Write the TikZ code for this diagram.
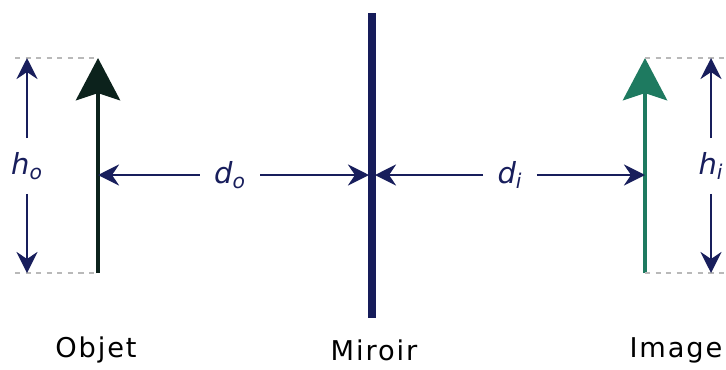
\documentclass[tikz,border=0pt]{standalone}
\usepackage{fontspec}
\setmainfont{DejaVu Sans}
\newfontfamily\captionfont[LetterSpace=7]{DejaVu Sans}
\usetikzlibrary{arrows.meta}
\definecolor{DimNavy}{RGB}{24,30,92}
\definecolor{MirrorBlue}{RGB}{22,28,90}
\definecolor{ObjDark}{RGB}{12,34,28}
\definecolor{ImgGreen}{RGB}{30,122,96}
\definecolor{GuideGrey}{RGB}{185,185,185}
\tikzset{
  mainarrow/.style={-{Stealth[length=24pt,width=25pt,inset=4pt]},line width=2.8pt},
  dimarrow/.style={-{Stealth[length=12pt,width=12pt,inset=4pt]},line width=1.3pt,DimNavy},
  dimlabel/.style={inner xsep=8pt,inner ysep=8pt,text=DimNavy,font=\itshape\fontsize{16.5}{18}\selectfont},
  mirrorline/.style={line width=4.5pt,MirrorBlue},
  guide/.style={dashed,GuideGrey,line width=0.6pt},
  caption/.style={font=\captionfont\fontsize{15.5}{17}\selectfont,text=black}
}

\begin{document}
\begin{tikzpicture}[x=0.02cm,y=-0.02cm]
      \useasboundingbox (0,0) rectangle (726,369);
      % object, mirror, image
      \coordinate (objbot) at (98,273);
      \coordinate (objtop) at (98,58);
      \coordinate (objmid) at (98,175);
      \coordinate (mirtop) at (372,13);
      \coordinate (mirbot) at (372,318);
      \coordinate (mirleft) at (369,175);
      \coordinate (mirright) at (375,175);
      \coordinate (imgbot) at (645,273);
      \coordinate (imgtop) at (645,58);
      \coordinate (imgmid) at (645,175);
      \draw[mainarrow,ObjDark] (objbot) -- (objtop);
      \draw[mirrorline] (mirtop) -- (mirbot);
      \draw[mainarrow,ImgGreen] (imgbot) -- (imgtop);

      % guide lines
      \coordinate (hotop) at (27,58);
      \coordinate (hobot) at (27,273);
      \coordinate (hitop) at (711,58);
      \coordinate (hibot) at (711,273);
      \draw[guide] (15,58) -- (objtop);
      \draw[guide] (15,273) -- (objbot);
      \draw[guide] (imgtop) -- (726,58);
      \draw[guide] (imgbot) -- (726,273);

      % dimensions
      \node[dimlabel] (ho) at (27,166) {h\textsubscript{o}};
      \node[dimlabel] (hi) at (711,166) {h\textsubscript{i}};
      \node[dimlabel] (do) at (230,175) {d\textsubscript{o}};
      \node[dimlabel] (di) at (510,175) {d\textsubscript{i}};
      \draw[dimarrow] (ho) -- (hotop);
      \draw[dimarrow] (ho) -- (hobot);
      \draw[dimarrow] (hi) -- (hitop);
      \draw[dimarrow] (hi) -- (hibot);
      \draw[dimarrow] (do) -- (objmid);
      \draw[dimarrow] (do) -- (mirleft);
      \draw[dimarrow] (di) -- (mirright);
      \draw[dimarrow] (di) -- (imgmid);

      % captions
      \node[caption] (objet) at (96,350) {Objet};
      \node[caption] (miroir) at (374,350) {Miroir};
      \node[caption] (image) at (676,350) {Image};
    \end{tikzpicture}
\end{document}
